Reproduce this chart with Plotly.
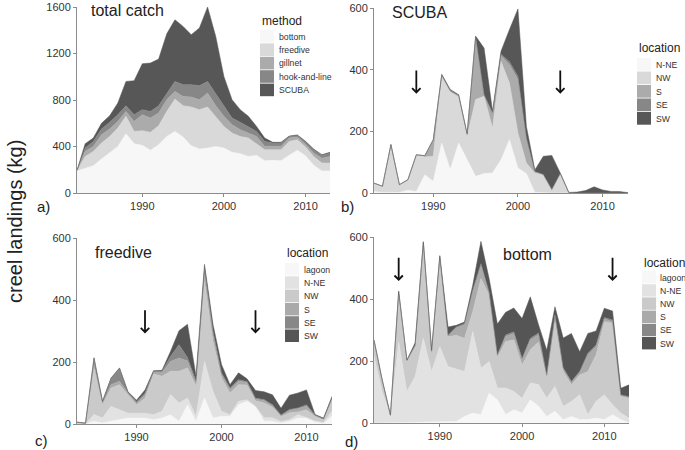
import plotly.graph_objects as go

# ---------------- data ----------------
years_a = list(range(1982, 2014))
methods = ["bottom", "freedive", "gillnet", "hook-and-line", "SCUBA"]
a_bottom = [190,215,235,292,344,400,510,424,410,367,415,487,530,481,407,378,387,401,387,350,338,315,324,278,281,278,324,367,320,238,190,190]
a_freedive = [3,100,123,138,143,159,150,106,126,155,164,215,278,270,333,339,353,259,186,166,149,158,100,95,92,95,120,92,75,77,68,68]
a_gillnet = [1,43,43,71,63,57,42,86,138,123,109,101,66,80,86,86,120,91,87,72,58,43,63,28,28,28,29,23,25,29,42,57]
a_hook = [1,29,43,49,58,58,49,58,43,57,63,57,86,101,106,120,100,103,85,57,63,52,43,43,29,29,12,11,20,29,25,28]
a_scuba = [0,37,29,50,57,100,209,292,395,416,401,510,530,501,430,497,640,493,258,158,109,92,43,29,6,6,5,7,5,5,5,7]

years_b = list(range(1983, 2014))
locs_b = ["N-NE", "NW", "S", "SE", "SW"]
b_nne = [5,2,2,2,9,5,59,38,162,76,162,108,54,63,65,108,173,81,63,2,0,0,0,0,0,0,0,0,0,0,0]
b_nw = [27,20,155,25,34,119,58,81,216,254,152,76,249,251,146,319,184,114,34,63,60,11,63,2,0,0,0,0,0,0,0]
b_s = [0,0,0,0,0,0,4,54,2,0,0,5,203,5,49,18,59,173,76,5,0,0,0,0,0,0,0,0,0,0,0]
b_se = [0,0,0,0,0,0,0,0,3,3,3,3,0,0,0,5,10,10,5,0,0,0,0,0,0,0,0,0,0,0,0]
b_sw = [0,0,0,0,0,0,0,0,2,3,2,0,3,151,5,10,104,219,38,5,59,111,2,0,3,8,20,10,5,5,1]

years_c = list(range(1983, 2014))
locs_cd = ["lagoon", "N-NE", "NW", "S", "SE", "SW"]
c_lagoon = [0,0,9,3,9,14,19,19,19,14,19,30,9,62,9,84,19,25,25,62,73,57,9,9,3,9,19,19,6,2,25]
c_nne = [1,0,22,16,48,32,16,16,16,16,22,65,59,22,16,118,86,16,5,11,5,0,11,11,5,5,11,2,4,3,16]
c_nw = [3,1,151,43,59,81,59,27,48,131,113,75,102,97,97,258,161,108,70,54,48,18,48,34,16,22,9,25,14,9,38]
c_s = [1,1,11,5,11,11,5,5,11,6,11,32,43,22,8,22,22,11,11,11,9,6,8,6,3,8,11,11,3,2,3]
c_se = [1,1,19,5,19,41,3,5,5,2,5,16,43,11,9,22,11,5,5,5,2,2,3,2,2,3,2,5,2,1,2]
c_sw = [0,0,2,2,2,2,2,5,11,3,3,16,45,108,16,11,22,27,11,22,9,25,25,32,22,46,48,48,2,2,5]

years_d = list(range(1982, 2014))
d_lagoon = [0,0,0,1,1,2,3,3,5,3,5,21,32,27,96,75,27,43,32,75,54,21,38,11,21,11,11,16,11,27,11,0]
d_nne = [215,102,21,260,101,148,270,163,241,179,169,145,263,150,102,38,86,59,48,54,70,59,80,43,48,80,16,54,80,32,21,16]
d_nw = [48,32,2,155,96,96,305,62,286,96,109,107,64,289,214,99,150,166,107,107,137,64,214,113,54,64,139,150,236,263,54,64]
d_s = [3,3,1,5,2,3,3,2,3,3,24,43,64,43,5,6,16,21,16,32,24,9,11,9,9,9,54,27,9,5,3,3]
d_se = [2,2,2,3,3,2,2,2,3,2,3,5,5,5,5,2,5,5,5,5,5,2,5,2,2,2,5,5,4,5,2,2]
d_sw = [0,0,0,2,0,8,2,3,2,27,5,5,16,72,43,99,73,77,129,134,27,80,27,96,155,64,64,45,30,29,21,38]

ticks_x = [1990, 2000, 2010]
ticks_a = [0, 400, 800, 1200, 1600]
ticks_bcd = [0, 200, 400, 600]
arrow_b = [1988, 2005]
arrow_c = [1991, 2004]
arrow_d = [1985, 2011]

# ---------------- styling ----------------
W, H = 685, 450
FONT = "Liberation Sans, Arial, sans-serif"
greys5 = ["#f7f7f7", "#d9d9d9", "#ababab", "#878787", "#575757"]
greys6 = ["#f7f7f7", "#e2e2e2", "#cacaca", "#aaaaaa", "#888888", "#555555"]

def PX(x):
    return x / W

def PY(y):
    return 1 - y / H

fig = go.Figure()

panels = [
    ("x", "y", years_a, [a_bottom, a_freedive, a_gillnet, a_hook, a_scuba], methods, greys5),
    ("x2", "y2", years_b, [b_nne, b_nw, b_s, b_se, b_sw], locs_b, greys5),
    ("x3", "y3", years_c, [c_lagoon, c_nne, c_nw, c_s, c_se, c_sw], locs_cd, greys6),
    ("x4", "y4", years_d, [d_lagoon, d_nne, d_nw, d_s, d_se, d_sw], locs_cd, greys6),
]
for i, (xa, ya, yrs, series, names, cols) in enumerate(panels):
    for vals, nm, col in zip(series, names, cols):
        fig.add_trace(go.Scatter(
            x=yrs, y=vals, name=nm, mode="lines", stackgroup="g%d" % i,
            line=dict(width=0.5, color=col), fillcolor=col,
            xaxis=xa, yaxis=ya, showlegend=False, hoverinfo="x+y+name"))

axis_common = dict(showgrid=False, zeroline=False, showline=True, linecolor="#8c8c8c",
                   linewidth=1, ticks="outside", ticklen=3, tickcolor="#8c8c8c",
                   tickfont=dict(family=FONT, size=11, color="#333333"), automargin=False)

doms = {
    "a": dict(x=[PX(77), PX(330)], y=[PY(193), PY(7)]),
    "b": dict(x=[PX(374), PX(628)], y=[PY(193), PY(8)]),
    "c": dict(x=[PX(77), PX(332)], y=[PY(424), PY(238)]),
    "d": dict(x=[PX(374), PX(629)], y=[PY(423), PY(237)]),
}

fig.update_layout(
    width=W, height=H, autosize=False, template="none",
    paper_bgcolor="white", plot_bgcolor="white",
    margin=dict(l=0, r=0, t=0, b=0), showlegend=False,
    font=dict(family=FONT, color="#222222"),
    xaxis=dict(domain=doms["a"]["x"], anchor="y", range=[1982, 2013], tickvals=ticks_x, **axis_common),
    yaxis=dict(domain=doms["a"]["y"], anchor="x", range=[0, 1600], tickvals=ticks_a, **axis_common),
    xaxis2=dict(domain=doms["b"]["x"], anchor="y2", range=[1983, 2013], tickvals=ticks_x, **axis_common),
    yaxis2=dict(domain=doms["b"]["y"], anchor="x2", range=[0, 600], tickvals=ticks_bcd, **axis_common),
    xaxis3=dict(domain=doms["c"]["x"], anchor="y3", range=[1983, 2013], tickvals=ticks_x, **axis_common),
    yaxis3=dict(domain=doms["c"]["y"], anchor="x3", range=[0, 600], tickvals=ticks_bcd, **axis_common),
    xaxis4=dict(domain=doms["d"]["x"], anchor="y4", range=[1982, 2013], tickvals=ticks_x, **axis_common),
    yaxis4=dict(domain=doms["d"]["y"], anchor="x4", range=[0, 600], tickvals=ticks_bcd, **axis_common),
)

ann = []
shapes = []

def text(x, y, s, size, xanchor="center", color="#222222", angle=0):
    ann.append(dict(x=PX(x), y=PY(y), xref="paper", yref="paper", text=s, showarrow=False,
                    xanchor=xanchor, yanchor="middle", textangle=angle,
                    font=dict(family=FONT, size=size, color=color)))

# panel titles
text(127, 10, "total catch", 16)
text(419, 13, "SCUBA", 16)
text(123, 252, "freedive", 16)
text(527, 254, "bottom", 16)
# panel letters
text(43, 207, "a)", 15)
text(347, 207, "b)", 15)
text(41, 440, "c)", 15)
text(351, 441, "d)", 15)
# y label
text(15, 222, "creel landings (kg)", 20, angle=-90)

# legends
def legend(x0, ytitle, ytop, pitch, names, cols, title, gap=16.5):
    text(x0, ytitle, title, 12, xanchor="left")
    for k, (nm, col) in enumerate(zip(names, cols)):
        t = ytop + k * pitch
        shapes.append(dict(type="rect", xref="paper", yref="paper",
                           x0=PX(x0), x1=PX(x0 + 14), y0=PY(t + pitch - 0.8), y1=PY(t),
                           fillcolor=col, line=dict(width=0)))
        text(x0 + gap, t + pitch / 2, nm, 8.7, xanchor="left", color="#333333")

legend(260, 21, 30, 13.4, methods, greys5, "method")
legend(637, 48, 58, 13.5, locs_b, greys5, "location")
legend(285, 253, 263, 13.3, locs_cd, greys6, "location")
legend(642, 263, 271, 13.2, locs_cd, greys6, "location", gap=15.5)

# arrows
def arrows(xr, yr, xs, y_tip, y_tail):
    for xv in xs:
        ann.append(dict(x=xv, y=y_tip, ax=xv, ay=y_tail, xref=xr, yref=yr, axref=xr, ayref=yr,
                        showarrow=True, arrowhead=4, arrowsize=0.9, arrowwidth=1.8,
                        arrowcolor="#111111", text=""))

arrows("x2", "y2", arrow_b, 322, 402)
arrows("x3", "y3", arrow_c, 292, 372)
arrows("x4", "y4", arrow_d, 458, 538)

fig.update_layout(annotations=ann, shapes=shapes)

fig.write_html("out.html", config={"displayModeBar": False},
               post_script="document.body.style.margin='0';")
